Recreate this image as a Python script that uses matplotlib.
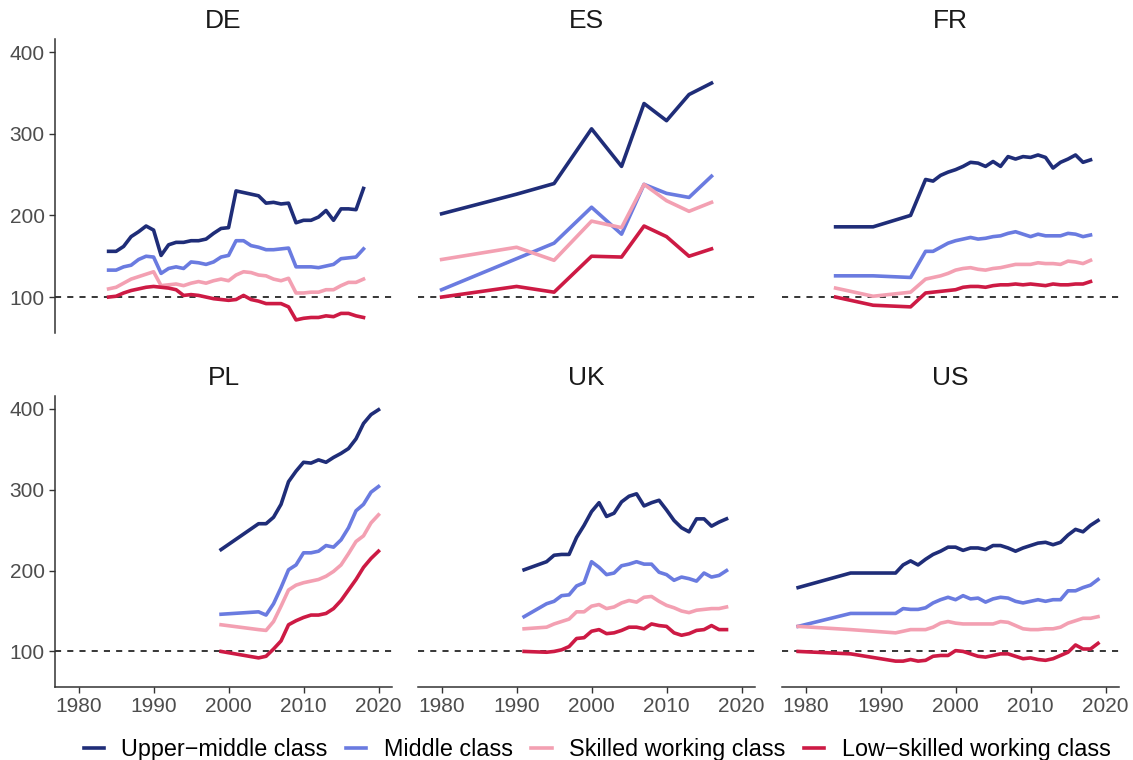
import matplotlib
matplotlib.use("Agg")
from matplotlib import pyplot as plt
from matplotlib.lines import Line2D

plt.rcParams['font.family'] = ['Liberation Sans', 'DejaVu Sans']

classes = ["Upper\u2212middle class", "Middle class", "Skilled working class", "Low\u2212skilled working class"]
colors = ["#1f2d78", "#6a7be0", "#f3a0b2", "#cd1a44"]

# Germany
de_years = list(range(1984, 2019))
de_upper = [156, 156, 162, 174, 180, 187, 182, 151, 164, 167, 167, 169, 169, 171, 178, 184, 185, 230,
            228, 226, 224, 215, 216, 214, 215, 191, 194, 194, 198, 206, 194, 208, 208, 207, 233]
de_middle = [133, 133, 137, 139, 146, 150, 149, 129, 135, 137, 135, 143, 142, 140, 143, 149, 151, 169,
             169, 163, 161, 158, 158, 159, 160, 137, 137, 137, 136, 138, 140, 147, 148, 149, 159]
de_skilled = [110, 112, 117, 122, 125, 128, 131, 114, 115, 116, 114, 117, 119, 117, 120, 122, 120, 127,
              131, 130, 127, 126, 122, 120, 123, 105, 105, 106, 106, 109, 109, 114, 118, 118, 122]
de_low = [100, 101, 105, 108, 110, 112, 113, 112, 111, 109, 102, 103, 102, 100, 98, 97, 96, 97,
          102, 97, 95, 92, 92, 92, 88, 72, 74, 75, 75, 77, 76, 80, 80, 77, 75]

# Spain
es_years = [1980, 1990, 1995, 2000, 2004, 2007, 2010, 2013, 2016]
es_upper = [202, 226, 239, 306, 260, 337, 316, 348, 362]
es_middle = [109, 147, 166, 210, 177, 238, 227, 222, 248]
es_skilled = [146, 161, 145, 193, 185, 238, 218, 205, 216]
es_low = [100, 113, 106, 150, 149, 187, 174, 150, 159]

# France
fr_years = [1984, 1989, 1994] + list(range(1996, 2019))
fr_upper = [186, 186, 200, 244, 242, 249, 253, 256, 260, 265, 264, 260, 266, 260, 272, 269, 272,
            271, 274, 271, 258, 265, 269, 274, 265, 268]
fr_middle = [126, 126, 124, 156, 156, 161, 166, 169, 171, 173, 171, 172, 174, 175, 178, 180, 177,
             174, 177, 175, 175, 175, 178, 177, 174, 176]
fr_skilled = [111, 101, 106, 122, 124, 126, 129, 133, 135, 136, 134, 133, 135, 136, 138, 140, 140,
              140, 142, 141, 141, 140, 144, 143, 141, 145]
fr_low = [100, 90, 88, 105, 106, 107, 108, 109, 112, 113, 113, 112, 114, 115, 115, 116, 115,
          116, 115, 114, 116, 115, 115, 116, 116, 119]

# Poland
pl_years = [1999] + list(range(2004, 2021))
pl_upper = [226, 258, 258, 266, 282, 310, 323, 334, 333, 337, 334, 340, 345, 351, 363, 382, 393, 399]
pl_middle = [146, 149, 145, 159, 179, 201, 207, 222, 222, 224, 231, 229, 238, 253, 274, 282, 297, 304]
pl_skilled = [133, 127, 126, 137, 156, 176, 182, 185, 187, 189, 193, 199, 207, 221, 236, 243, 259, 269]
pl_low = [100, 92, 94, 103, 113, 133, 138, 142, 145, 145, 147, 153, 163, 176, 189, 204, 215, 224]

# United Kingdom
uk_years = [1991] + list(range(1994, 2019))
uk_upper = [201, 211, 219, 220, 220, 241, 256, 273, 284, 267, 271, 285, 292, 295, 280, 284, 287,
            275, 262, 253, 248, 264, 264, 255, 260, 264]
uk_middle = [143, 159, 162, 169, 170, 181, 185, 211, 204, 195, 197, 206, 208, 211, 208, 208, 198,
             195, 188, 192, 190, 187, 197, 192, 194, 200]
uk_skilled = [128, 130, 134, 137, 140, 149, 149, 156, 158, 153, 155, 160, 163, 161, 167, 168, 162,
              157, 154, 150, 148, 151, 152, 153, 153, 155]
uk_low = [100, 99, 100, 102, 106, 116, 117, 125, 127, 122, 123, 126, 130, 130, 128, 134, 132,
          131, 123, 120, 122, 126, 127, 132, 127, 127]

# United States
us_years = [1979, 1986] + list(range(1992, 2020))
us_upper = [179, 197, 197, 207, 212, 207, 214, 220, 224, 229, 229, 225, 228, 228, 226, 231, 231,
            228, 224, 228, 231, 234, 235, 232, 235, 244, 251, 248, 256, 262]
us_middle = [131, 147, 147, 153, 152, 152, 154, 160, 164, 167, 164, 169, 165, 166, 161, 165, 167,
             166, 162, 160, 162, 164, 162, 164, 164, 175, 175, 179, 182, 189]
us_skilled = [131, 127, 123, 125, 127, 127, 127, 130, 135, 137, 135, 134, 134, 134, 134, 134, 137,
              136, 132, 128, 127, 127, 128, 128, 130, 135, 138, 141, 141, 143]
us_low = [100, 97, 88, 88, 90, 88, 89, 94, 95, 95, 101, 100, 97, 94, 93, 95, 97, 97, 94, 91, 92,
          90, 89, 91, 95, 99, 108, 103, 103, 110]

panels = [
    ("DE", de_years, [de_upper, de_middle, de_skilled, de_low]),
    ("ES", es_years, [es_upper, es_middle, es_skilled, es_low]),
    ("FR", fr_years, [fr_upper, fr_middle, fr_skilled, fr_low]),
    ("PL", pl_years, [pl_upper, pl_middle, pl_skilled, pl_low]),
    ("UK", uk_years, [uk_upper, uk_middle, uk_skilled, uk_low]),
    ("US", us_years, [us_upper, us_middle, us_skilled, us_low]),
]

fig = plt.figure(figsize=(11.33, 7.6), dpi=100)
W, H = 1133, 760
lefts = [55, 418, 782]
pw = 337
rows = [(39, 333), (396, 687)]

for i, (name, years, series) in enumerate(panels):
    r, c = divmod(i, 3)
    top, bot = rows[r]
    ax = fig.add_axes([lefts[c] / W, 1 - bot / H, pw / W, (bot - top) / H])
    ax.axhline(100, color="black", lw=1.1, ls=(0, (4, 4)), zorder=1)
    for vals, col in zip(series, colors):
        ax.plot(years, vals, color=col, lw=2.6, solid_joinstyle="round", zorder=2)
    ax.set_xlim(1976.85, 2021.8)
    ax.set_ylim(56, 416)
    ax.set_xticks([1980, 1990, 2000, 2010, 2020])
    ax.set_yticks([100, 200, 300, 400])
    ax.set_title(name, fontsize=19, pad=8, color="#1a1a1a")
    for s in ["top", "right"]:
        ax.spines[s].set_visible(False)
    ax.spines["left"].set_color("#333333")
    ax.spines["bottom"].set_color("#333333")
    ax.spines["left"].set_linewidth(1.1)
    ax.spines["bottom"].set_linewidth(1.1)
    ax.tick_params(colors="#333333", labelcolor="#4d4d4d", labelsize=15, length=4, width=1)
    if c != 0:
        ax.spines["left"].set_visible(False)
        ax.tick_params(axis="y", left=False, labelleft=False)
    if r == 0:
        ax.spines["bottom"].set_visible(False)
        ax.tick_params(axis="x", bottom=False, labelbottom=False)

handles = [Line2D([0], [0], color=col, lw=2.6) for col in colors]
fig.legend(handles, classes, loc="center", bbox_to_anchor=(0.527, 0.014), ncol=4, frameon=False,
           fontsize=16.8, handlelength=0.86, handletextpad=0.75, columnspacing=0.8)

fig.savefig("out.png", dpi=100)
